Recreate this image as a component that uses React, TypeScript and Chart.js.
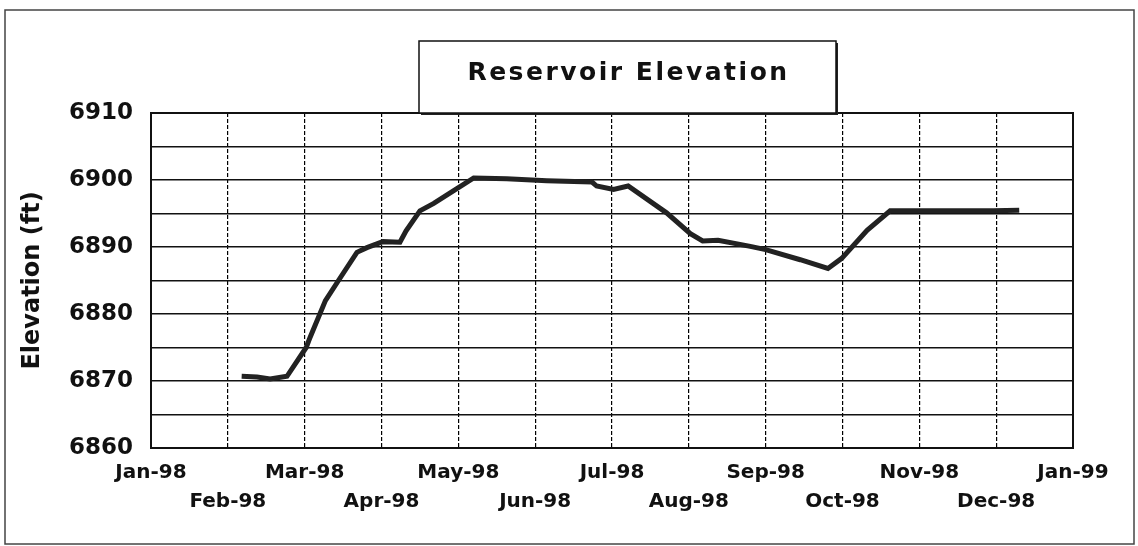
import React, { useEffect, useRef } from "react";
import { Chart, registerables } from "chart.js";

Chart.register(...registerables);

// Month tick labels (x axis positions 0..12 = Jan-98 .. Jan-99)
const monthLabels = [
  "Jan-98", "Feb-98", "Mar-98", "Apr-98", "May-98", "Jun-98", "Jul-98",
  "Aug-98", "Sep-98", "Oct-98", "Nov-98", "Dec-98", "Jan-99",
];

// Observation positions in months since Jan 1 1998
const obsMonths = [
  1.18, 1.38, 1.55, 1.77, 2.02, 2.07, 2.27, 2.44, 2.68, 2.81, 3.02, 3.24,
  3.32, 3.5, 3.68, 3.94, 4.2, 4.63, 5.15, 5.74, 5.8, 6.02, 6.21, 6.71,
  7.02, 7.18, 7.38, 7.8, 8.0, 8.45, 8.81, 8.99, 9.32, 9.62, 10.96, 11.3,
];

// Reservoir elevation (ft)
const elevation = [
  6870.7, 6870.6, 6870.3, 6870.7, 6875.0, 6876.5, 6882.0, 6885.0, 6889.2,
  6889.9, 6890.8, 6890.7, 6892.4, 6895.4, 6896.5, 6898.4, 6900.3, 6900.2,
  6899.9, 6899.7, 6899.1, 6898.6, 6899.1, 6895.1, 6892.0, 6890.9, 6891.0,
  6890.1, 6889.6, 6888.1, 6886.8, 6888.3, 6892.5, 6895.4, 6895.4, 6895.5,
];

const yMin = 6860;
const yMax = 6910;
const yStep = 5;
const yLabelStep = 10;

const chartTitle = "Reservoir Elevation";
const yAxisTitle = "Elevation (ft)";

const FONT = "'DejaVu Sans', 'Liberation Sans', Arial, sans-serif";

export default function App() {
  const canvasRef = useRef<HTMLCanvasElement | null>(null);

  useEffect(() => {
    const canvas = canvasRef.current;
    if (!canvas) return;

    const decorPlugin = {
      id: "decor",
      beforeDatasetsDraw(chart: any) {
        const { ctx, chartArea } = chart;
        ctx.save();
        ctx.strokeStyle = "#111";
        ctx.lineWidth = 2;
        ctx.setLineDash([]);
        ctx.strokeRect(
          chartArea.left,
          chartArea.top,
          chartArea.right - chartArea.left,
          chartArea.bottom - chartArea.top
        );
        ctx.restore();
      },
      afterDraw(chart: any) {
        const { ctx } = chart;
        ctx.save();
        // outer frame
        ctx.strokeStyle = "#444";
        ctx.lineWidth = 1.5;
        ctx.strokeRect(5, 10, 1129, 534);
        // title box
        const bx = 419, by = 41, bw = 417, bh = 72;
        ctx.fillStyle = "#222";
        ctx.fillRect(bx + 2, by + 2, bw, bh);
        ctx.fillStyle = "#fff";
        ctx.fillRect(bx, by, bw, bh);
        ctx.strokeStyle = "#111";
        ctx.lineWidth = 1.5;
        ctx.strokeRect(bx, by, bw, bh);
        ctx.fillStyle = "#111";
        ctx.font = `bold 25px ${FONT}`;
        (ctx as any).letterSpacing = "2.5px";
        ctx.textAlign = "center";
        ctx.textBaseline = "middle";
        ctx.fillText(chartTitle, bx + bw / 2 + 1, 73);
        ctx.restore();
      },
    };

    const chart = new Chart(canvas, {
      type: "line",
      data: {
        datasets: [
          {
            label: "Elevation",
            data: obsMonths.map((m, i) => ({ x: m, y: elevation[i] })),
            borderColor: "#222",
            borderWidth: 5,
            pointRadius: 0,
            tension: 0,
            fill: false,
          },
        ],
      },
      options: {
        animation: false,
        responsive: false,
        layout: { padding: { top: 113, right: 65, left: 0, bottom: 0 } },
        plugins: {
          legend: { display: false },
          tooltip: { enabled: false },
          title: { display: false },
        },
        scales: {
          x: {
            type: "linear",
            min: 0,
            max: monthLabels.length - 1,
            afterFit(scale: any) {
              scale.height = 98;
            },
            ticks: {
              stepSize: 1,
              autoSkip: false,
              maxRotation: 0,
              minRotation: 0,
              padding: 10,
              color: "#111",
              font: { family: FONT, size: 20, weight: "bold", lineHeight: 1.45 },
              callback: (v: any) => {
                const idx = Math.round(Number(v));
                const lbl = monthLabels[idx] ?? "";
                return idx % 2 === 0 ? lbl : ["", lbl];
              },
            },
            grid: {
              color: "#000",
              lineWidth: 1.2,
              drawTicks: false,
            },
            border: { display: false, dash: [4, 2] },
          },
          y: {
            type: "linear",
            min: yMin,
            max: yMax,
            afterFit(scale: any) {
              scale.width = 151;
            },
            ticks: {
              stepSize: yStep,
              padding: 18,
              color: "#111",
              font: { family: FONT, size: 23, weight: "bold" },
              callback: (v: any) =>
                Number(v) % yLabelStep === 0 ? String(v) : "",
            },
            grid: {
              color: "#111",
              lineWidth: 1.5,
              drawTicks: false,
            },
            border: { display: false },
            title: {
              display: true,
              text: yAxisTitle,
              color: "#111",
              padding: { top: 18, bottom: 0 },
              font: { family: FONT, size: 24, weight: "bold", lineHeight: 1.2 },
            },
          },
        },
      },
      plugins: [decorPlugin],
    });

    return () => {
      chart.destroy();
    };
  }, []);

  return (
    <div
      style={{
        position: "fixed",
        left: 0,
        top: 0,
        width: 1138,
        height: 546,
        background: "#fff",
      }}
    >
      <canvas
        ref={canvasRef}
        width={1138}
        height={546}
        style={{ display: "block", width: 1138, height: 546 }}
      />
    </div>
  );
}
